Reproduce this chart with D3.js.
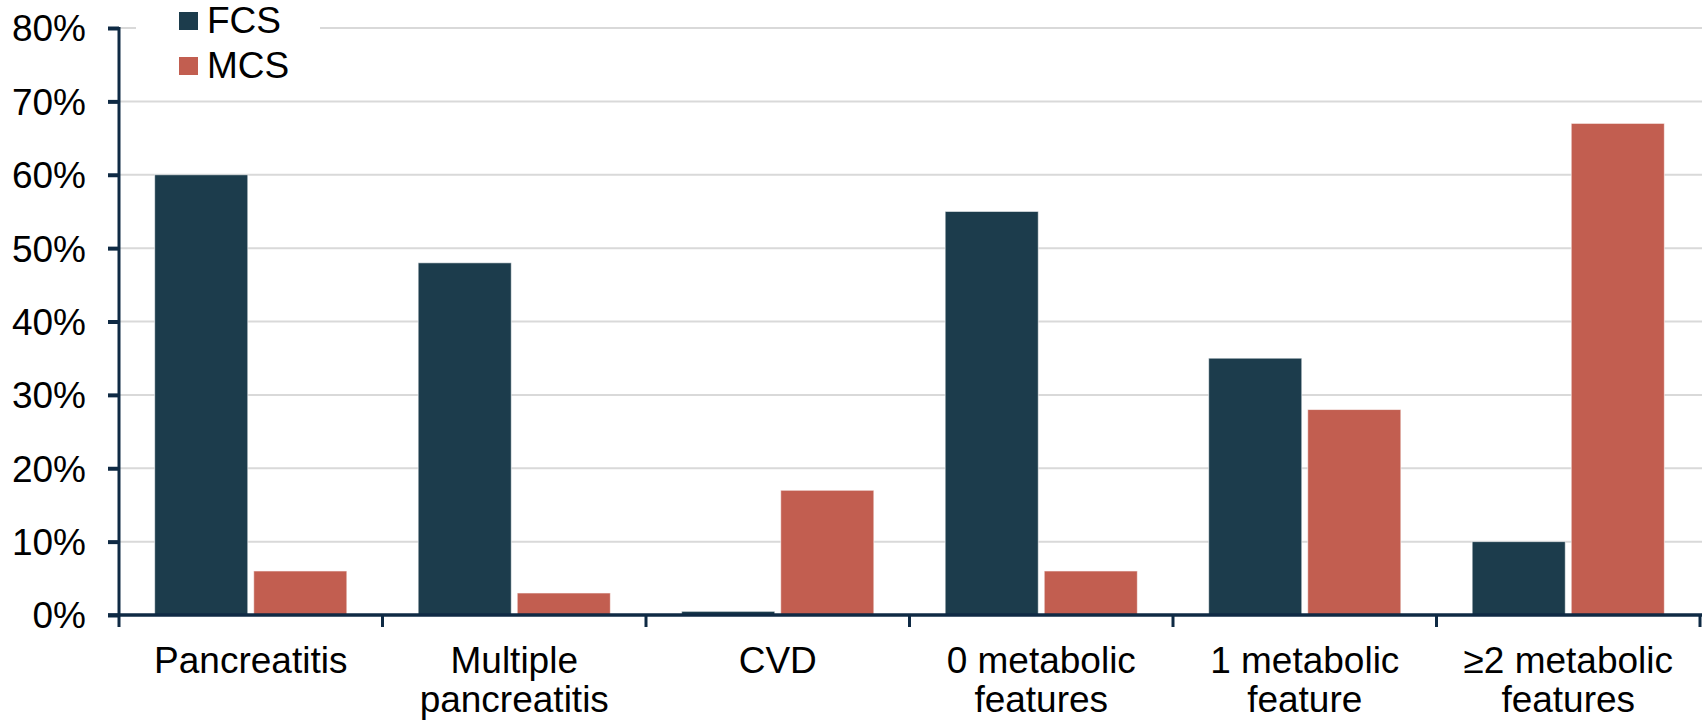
<!DOCTYPE html>
<html>
<head>
<meta charset="utf-8">
<script src="https://cdn.jsdelivr.net/npm/d3@7"></script>
<style>
  body { margin: 0; background: #fff; }
  svg { display: block; font-family: "Liberation Sans", Arial, sans-serif; }
</style>
</head>
<body>
<svg id="chart" width="1702" height="723"></svg>
<script>
// data
const categories = [
    ['Pancreatitis'],
    ['Multiple', 'pancreatitis'],
    ['CVD'],
    ['0 metabolic', 'features'],
    ['1 metabolic', 'feature'],
    ['\u22652 metabolic', 'features']
];
const seriesNames = ['FCS', 'MCS'];
const fcsValues = [60, 48, 0.5, 55, 35, 10];
const mcsValues = [6, 3, 17, 6, 28, 67];
const yTicks = [0, 10, 20, 30, 40, 50, 60, 70, 80];

const colors = { FCS: '#1c3c4c', MCS: '#c25e50' };
const AXIS_COLOR = '#0f2a44';

const WIDTH = 1702, HEIGHT = 723;
const MARGIN = { left: 119, right: 2, top: 28, bottom: 108 };

const svg = d3.select('#chart');

const catKeys = categories.map(d => d.join(' '));
const rows = catKeys.map((k, i) => ({ key: k, lines: categories[i], FCS: fcsValues[i], MCS: mcsValues[i] }));

const x0 = d3.scaleBand()
    .domain(catKeys)
    .range([MARGIN.left, WIDTH - MARGIN.right]);

const x1 = d3.scaleBand()
    .domain(seriesNames)
    .range([0, x0.bandwidth()])
    .paddingInner(0.06)
    .paddingOuter(0.36);

const y = d3.scaleLinear()
    .domain([0, 80])
    .range([HEIGHT - MARGIN.bottom, MARGIN.top]);

// gridlines
svg.append('g')
    .selectAll('line')
    .data(yTicks.filter(t => t > 0))
    .join('line')
    .attr('x1', MARGIN.left)
    .attr('x2', WIDTH)
    .attr('y1', d => y(d))
    .attr('y2', d => y(d))
    .attr('stroke', '#d9d9d9')
    .attr('stroke-width', 2);

// bars
const groups = svg.append('g')
    .selectAll('g')
    .data(rows)
    .join('g')
    .attr('transform', d => `translate(${x0(d.key)},0)`);

groups.selectAll('rect')
    .data(d => seriesNames.map(s => ({ s, v: d[s] })))
    .join('rect')
    .attr('x', d => x1(d.s))
    .attr('width', x1.bandwidth())
    .attr('y', d => y(d.v))
    .attr('height', d => y(0) - y(d.v))
    .attr('fill', d => colors[d.s])
    .attr('stroke', '#ffffff')
    .attr('stroke-opacity', 0.6)
    .attr('stroke-width', 1);

// y axis
const yAxis = d3.axisLeft(y)
    .tickValues(yTicks)
    .tickSize(11)
    .tickPadding(22)
    .tickFormat(d => d + '%');

const gy = svg.append('g')
    .attr('transform', `translate(${MARGIN.left},0)`)
    .call(yAxis);
gy.select('.domain').remove();
gy.selectAll('.tick line').attr('stroke', AXIS_COLOR).attr('stroke-width', 4);
gy.selectAll('.tick text')
    .attr('fill', '#000')
    .style('font-size', '37px')
    .attr('dy', '0.35em');

// x axis line + category boundary ticks
const boundaries = catKeys.map(k => x0(k)).concat([x0(catKeys[catKeys.length - 1]) + x0.bandwidth()]);
svg.append('line')
    .attr('x1', MARGIN.left)
    .attr('x2', MARGIN.left)
    .attr('y1', y(80) - 1)
    .attr('y2', y(0) + 12)
    .attr('stroke', AXIS_COLOR)
    .attr('stroke-width', 3);
svg.append('line')
    .attr('x1', MARGIN.left - 11)
    .attr('x2', WIDTH)
    .attr('y1', y(0))
    .attr('y2', y(0))
    .attr('stroke', AXIS_COLOR)
    .attr('stroke-width', 3.5);
svg.append('g')
    .selectAll('line')
    .data(boundaries.slice(1))
    .join('line')
    .attr('x1', d => d)
    .attr('x2', d => d)
    .attr('y1', y(0))
    .attr('y2', y(0) + 12)
    .attr('stroke', AXIS_COLOR)
    .attr('stroke-width', 3);

// category labels
const labels = svg.append('g')
    .selectAll('text')
    .data(rows)
    .join('text')
    .attr('x', d => x0(d.key) + x0.bandwidth() / 2)
    .attr('y', 673)
    .attr('text-anchor', 'middle')
    .attr('fill', '#000')
    .style('font-size', '37px');
labels.selectAll('tspan')
    .data(d => d.lines)
    .join('tspan')
    .attr('x', function () { return d3.select(this.parentNode).attr('x'); })
    .attr('dy', (d, i) => i === 0 ? 0 : 39)
    .text(d => d);

// legend
const legend = svg.append('g');
legend.append('rect')
    .attr('x', 136)
    .attr('y', 0)
    .attr('width', 184)
    .attr('height', 90)
    .attr('fill', '#fff');
const items = legend.selectAll('g.item')
    .data(seriesNames)
    .join('g')
    .attr('class', 'item')
    .attr('transform', (d, i) => `translate(179,${12 + i * 45})`);
items.append('rect')
    .attr('width', 19)
    .attr('height', 18)
    .attr('fill', d => colors[d]);
items.append('text')
    .attr('x', 28)
    .attr('y', 21)
    .attr('fill', '#000')
    .style('font-size', '37px')
    .text(d => d);
</script>
</body>
</html>
